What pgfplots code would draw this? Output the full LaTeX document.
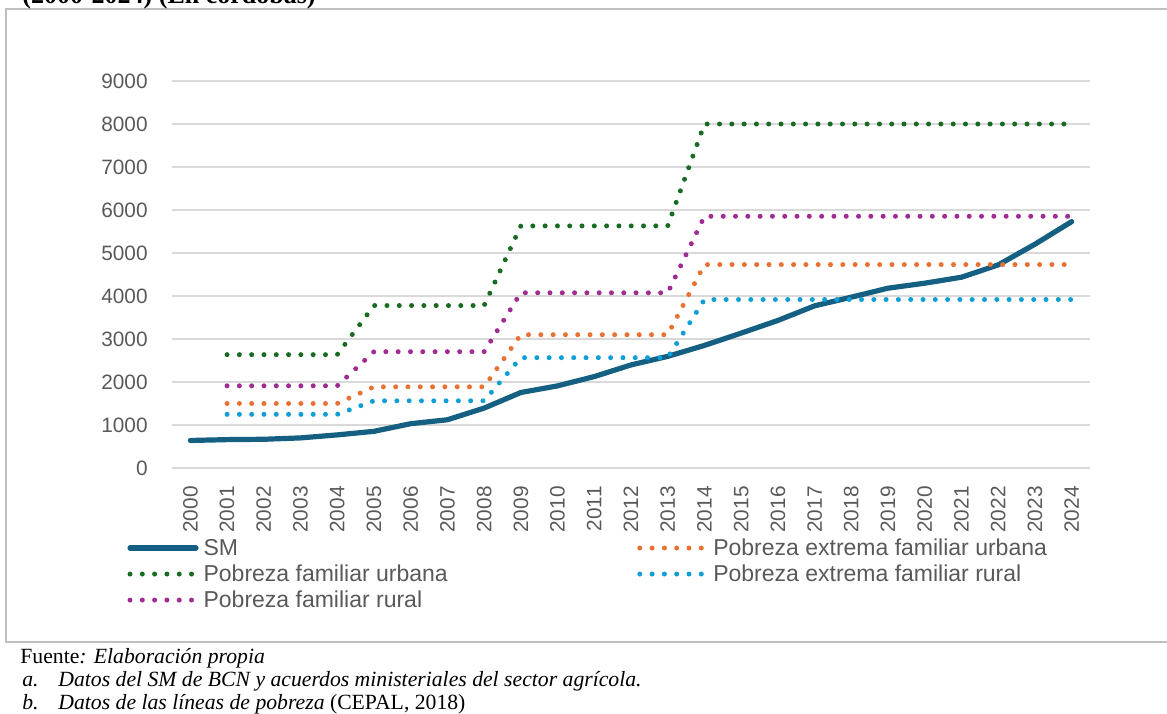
\documentclass[border=0pt]{standalone}
\usepackage{pgfplots}
\usepackage{pgfplotstable}
\pgfplotsset{compat=1.18}
\usepackage{fontspec}
\setmainfont{Liberation Sans}
\newfontfamily\serifft{Liberation Serif}
\definecolor{smc}{HTML}{156082}
\definecolor{orc}{HTML}{E97132}
\definecolor{grc}{HTML}{196B24}
\definecolor{blc}{HTML}{0F9ED5}
\definecolor{puc}{HTML}{A02B93}
\definecolor{gridgray}{HTML}{D9D9D9}
\definecolor{labgray}{HTML}{595959}
\definecolor{boxgray}{HTML}{BFBFBF}

\pgfplotstableread{
x  sm    peu   pfu   per   pfr
0  640   nan   nan   nan   nan
1  660   1500  2636  1248  1911
2  668   1500  2636  1248  1911
3  700   1500  2636  1248  1911
4  770   1500  2636  1248  1911
5  853   1888  3778  1563  2705
6  1030  1888  3778  1563  2705
7  1122  1888  3778  1563  2705
8  1393  1888  3778  1563  2705
9  1756  3100  5630  2566  4075
10 1910  3100  5630  2566  4075
11 2126  3100  5630  2566  4075
12 2397  3100  5630  2566  4075
13 2596  3100  5630  2566  4075
14 2851  4731  8000  3918  5854
15 3137  4731  8000  3918  5854
16 3431  4731  8000  3918  5854
17 3771  4731  8000  3918  5854
18 3973  4731  8000  3918  5854
19 4182  4731  8000  3918  5854
20 4298  4731  8000  3918  5854
21 4437  4731  8000  3918  5854
22 4723  4731  8000  3918  5854
23 5204  4731  8000  3918  5854
24 5730  4731  8000  3918  5854
}\datatable

\begin{document}
\begin{tikzpicture}[x=0.5pt,y=0.5pt]
\useasboundingbox (0,0) rectangle (1167,713);
\begin{scope}
\clip (0,0) rectangle (1167,713);
\draw[color=boxgray, line width=0.8pt] (6,704) rectangle (1185,71);
\node[anchor=base west, inner sep=0pt, font=\serifft\bfseries\fontsize{13}{15}\selectfont] at (22,709.5) {(2000-2024) (En córdobas)};
\node[anchor=base west, inner sep=0pt, font=\serifft\fontsize{10.85}{12}\selectfont] at (20,50) {Fuente\textit{: Elaboración propia}};
\node[anchor=base west, inner sep=0pt, font=\serifft\itshape\fontsize{10.85}{12}\selectfont] at (22,27) {a.};
\node[anchor=base west, inner sep=0pt, font=\serifft\itshape\fontsize{10.85}{12}\selectfont] at (58,27) {Datos del SM de BCN y acuerdos ministeriales del sector agrícola.};
\node[anchor=base west, inner sep=0pt, font=\serifft\itshape\fontsize{10.85}{12}\selectfont] at (22,4) {b.};
\node[anchor=base west, inner sep=0pt, font=\serifft\fontsize{10.85}{12}\selectfont] at (58,4) {\textit{Datos de las líneas de pobreza} (CEPAL, 2018)};
\end{scope}
\begin{axis}[
  at={(86pt,122.5pt)}, anchor=south west,
  scale only axis, width=459pt, height=193.5pt,
  xmin=-0.5, xmax=24.5, ymin=0, ymax=9000,
  axis line style={draw=none},
  major tick length=0pt, tick style={draw=none},
  ytick={0,1000,...,9000},
  ymajorgrids, grid style={color=gridgray, line width=0.75pt},
  xtick={0,...,24},
  xticklabels={2000,2001,2002,2003,2004,2005,2006,2007,2008,2009,2010,2011,2012,2013,2014,2015,2016,2017,2018,2019,2020,2021,2022,2023,2024},
  xticklabel style={rotate=90, anchor=east, inner sep=0pt, font=\fontsize{10.4}{12}\selectfont, text=labgray},
  yticklabel style={anchor=east, inner sep=0pt, font=\fontsize{10.4}{12}\selectfont, text=labgray},
  xticklabel shift=9pt, yticklabel shift=12pt,
  scaled y ticks=false,
  /pgf/number format/1000 sep={},
  /pgf/number format/assume math mode=true,
  clip=false,
  legend columns=2,
  legend cell align=left,
  legend image code/.code={\draw[#1] (0pt,0.6pt) -- (33pt,0.6pt);},
  legend style={draw=none, fill=none, inner sep=0pt,
    font=\fontsize{11.5}{13}\selectfont, text=labgray,
    at={(axis description cs:-0.049,-0.1805)}, anchor=north west,
    row sep=2pt,
    nodes={inner sep=0pt, text height=8.5pt, text depth=2.5pt},
    /tikz/every odd column/.append style={column sep=2.5pt},
    /tikz/column 2/.style={column sep=94.75pt}},
  dotst/.style={line width=2.5pt, line cap=round, dash pattern=on 0pt off 6.15pt},
]
\addplot[smc, line width=2.6pt, line cap=round, line join=round] table[x=x,y=sm] {\datatable};
\addlegendentry{SM}
\addplot[orc, dotst] table[x=x,y=peu] {\datatable};
\addlegendentry{Pobreza extrema familiar urbana}
\addplot[grc, dotst] table[x=x,y=pfu] {\datatable};
\addlegendentry{Pobreza familiar urbana}
\addplot[blc, dotst] table[x=x,y=per] {\datatable};
\addlegendentry{Pobreza extrema familiar rural}
\addplot[puc, dotst] table[x=x,y=pfr] {\datatable};
\addlegendentry{Pobreza familiar rural}
\end{axis}
\end{tikzpicture}
\end{document}
